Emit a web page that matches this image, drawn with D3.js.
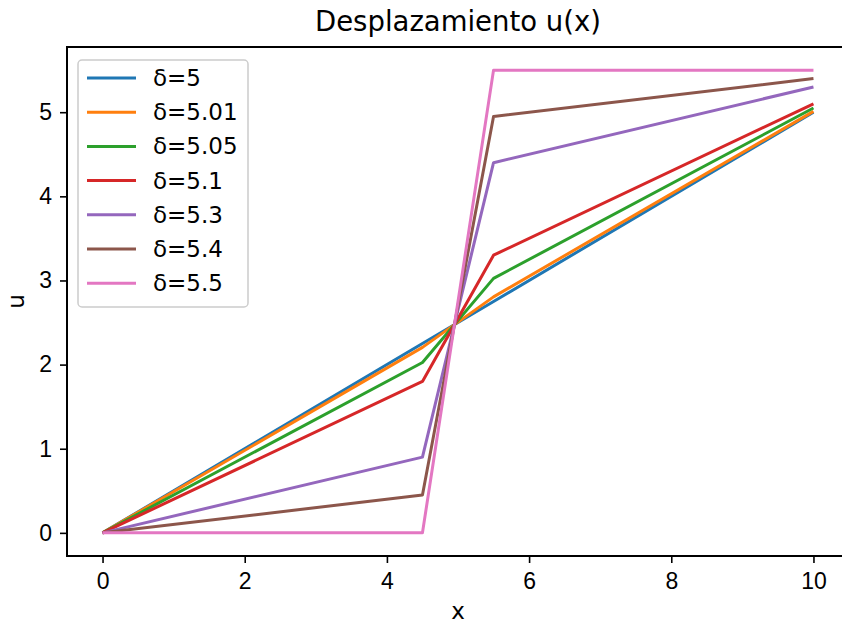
<!DOCTYPE html>
<html>
<head>
    <title>Desplazamiento u(x)</title>
    <script src="https://d3js.org/d3.v7.min.js"></script>
    <style>
        body { margin: 0; background: #fff; }
        svg { font-family: "DejaVu Sans", sans-serif; }
        .axis path { display: none; }
        .axis line { stroke: #000; stroke-width: 1.6; }
        .axis text { font-size: 23px; fill: #000; }
        .series { fill: none; stroke-width: 3; stroke-linejoin: round; }
    </style>
</head>
<body>
    <svg width="842" height="623"></svg>
    <script>
        // nodes along the bar
        const xNodes = [0, 4.5, 5.5, 10];
        const deltas = ["5", "5.01", "5.05", "5.1", "5.3", "5.4", "5.5"];
        // u at each node, one row per delta
        const uD500 = [0, 2.25, 2.75, 5];
        const uD501 = [0, 2.205, 2.805, 5.01];
        const uD505 = [0, 2.025, 3.025, 5.05];
        const uD510 = [0, 1.8, 3.3, 5.1];
        const uD530 = [0, 0.9, 4.4, 5.3];
        const uD540 = [0, 0.45, 4.95, 5.4];
        const uD550 = [0, 0, 5.5, 5.5];
        const colors = ["#1f77b4", "#ff7f0e", "#2ca02c", "#d62728", "#9467bd", "#8c564b", "#e377c2"];
        const xTicks = [0, 2, 4, 6, 8, 10];
        const yTicks = [0, 1, 2, 3, 4, 5];

        const uRows = [uD500, uD501, uD505, uD510, uD530, uD540, uD550];
        const series = deltas.map((d, i) => ({
            label: "δ=" + d,
            color: colors[i],
            points: xNodes.map((x, j) => [x, uRows[i][j]])
        }));

        const m = { left: 67, top: 47, right: 849, bottom: 556 };

        const svg = d3.select("svg");

        const x = d3.scaleLinear().domain([-0.5, 10.5]).range([m.left, m.right]);
        const y = d3.scaleLinear().domain([-0.275, 5.775]).range([m.bottom, m.top]);

        svg.append("g")
            .attr("class", "axis")
            .attr("transform", `translate(0,${m.bottom})`)
            .call(d3.axisBottom(x).tickValues(xTicks).tickSize(7).tickPadding(10).tickFormat(d3.format("d")));

        svg.append("g")
            .attr("class", "axis")
            .attr("transform", `translate(${m.left},0)`)
            .call(d3.axisLeft(y).tickValues(yTicks).tickSize(7).tickPadding(8).tickFormat(d3.format("d")));

        const line = d3.line().x(d => x(d[0])).y(d => y(d[1]));

        svg.append("g").selectAll("path")
            .data(series)
            .enter().append("path")
            .attr("class", "series")
            .attr("stroke", d => d.color)
            .attr("d", d => line(d.points));

        // frame
        svg.append("rect")
            .attr("x", m.left).attr("y", m.top)
            .attr("width", m.right - m.left).attr("height", m.bottom - m.top)
            .attr("fill", "none").attr("stroke", "#000").attr("stroke-width", 2);

        svg.append("text")
            .attr("x", (m.left + m.right) / 2).attr("y", 31)
            .attr("text-anchor", "middle")
            .style("font-size", "27.5px")
            .text("Desplazamiento u(x)");

        svg.append("text")
            .attr("x", (m.left + m.right) / 2).attr("y", 619)
            .attr("text-anchor", "middle")
            .style("font-size", "23px")
            .text("x");

        svg.append("text")
            .attr("transform", `translate(24,${(m.top + m.bottom) / 2}) rotate(-90)`)
            .attr("text-anchor", "middle")
            .style("font-size", "23px")
            .text("u");

        // legend
        const legend = svg.append("g").attr("transform", "translate(78,60)");
        legend.append("rect")
            .attr("width", 170).attr("height", 247)
            .attr("rx", 4)
            .attr("fill", "#fff").attr("fill-opacity", 0.8)
            .attr("stroke", "#ccc").attr("stroke-width", 1.5);

        const item = legend.selectAll(".item")
            .data(series)
            .enter().append("g")
            .attr("class", "item")
            .attr("transform", (d, i) => `translate(0,${18 + i * 34.2})`);

        item.append("line")
            .attr("x1", 9).attr("x2", 58)
            .attr("stroke", d => d.color)
            .attr("stroke-width", 3);

        item.append("text")
            .attr("x", 75).attr("y", 8)
            .style("font-size", "23px")
            .text(d => d.label);
    </script>
</body>
</html>
